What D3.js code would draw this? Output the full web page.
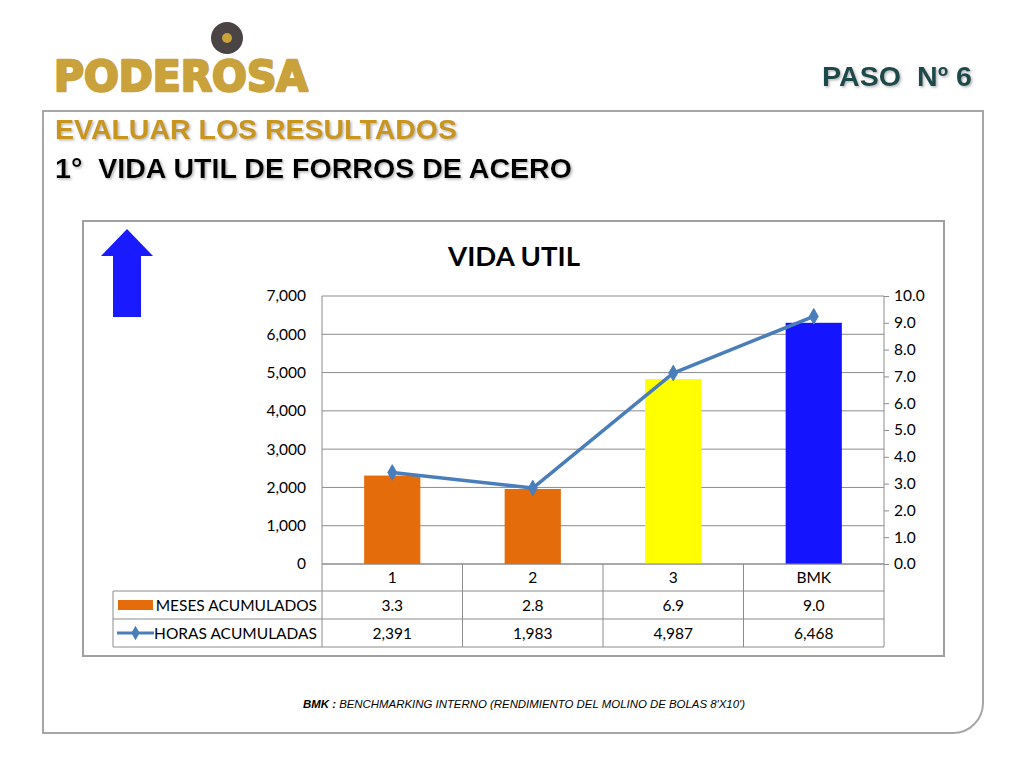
<!DOCTYPE html>
<html><head><meta charset="utf-8">
<script src="https://cdn.jsdelivr.net/npm/d3@7/dist/d3.min.js"></script>
<style>
body{margin:0;background:#fff;}
svg{display:block;}
text{white-space:pre;}
</style></head>
<body>
<svg id="c" width="1024" height="768"></svg>
<script>
const categories = ["1", "2", "3", "BMK"];
const meses = [3.3, 2.8, 6.9, 9.0];
const horas = [2391, 1983, 4987, 6468];
const barColors = ["#E46C0A", "#E46C0A", "#FFFF00", "#1414FF"];
const leftTicks = [0, 1000, 2000, 3000, 4000, 5000, 6000, 7000];
const rightTicks = [0, 1, 2, 3, 4, 5, 6, 7, 8, 9, 10];
const seriesNames = ["MESES ACUMULADOS", "HORAS ACUMULADAS"];

const svg = d3.select("#c");
const F = "Lato, 'Noto Sans', sans-serif";
const H = "'Liberation Sans', Arial, sans-serif";

const defs = svg.append("defs");
const f = defs.append("filter").attr("id","sh").attr("x","-5%").attr("y","-20%").attr("width","110%").attr("height","150%");
f.append("feDropShadow").attr("dx",1.5).attr("dy",1.5).attr("stdDeviation",1).attr("flood-color","#999").attr("flood-opacity",0.7);

// Outer frame with rounded bottom-right corner
svg.append("path")
  .attr("d","M43,111 H983 V703 A30,30 0 0 1 953,733 H43 Z")
  .attr("fill","none").attr("stroke","#A6A6A6").attr("stroke-width",2);

// Logo
svg.append("circle").attr("cx",227).attr("cy",38).attr("r",16).attr("fill","#4A4444");
svg.append("circle").attr("cx",227).attr("cy",38).attr("r",5).attr("fill","#C9A23C");
svg.append("text").attr("x",54).attr("y",91).text("PODEROSA")
  .attr("font-family","'DejaVu Sans', sans-serif").attr("font-weight","bold")
  .attr("font-size",42).attr("fill","#C9A23C").attr("stroke","#C9A23C").attr("stroke-width",2.5)
  .attr("stroke-linejoin","round")
  .attr("textLength",254).attr("lengthAdjust","spacingAndGlyphs");

// PASO Nº 6
svg.append("text").attr("x",972).attr("y",86).attr("text-anchor","end").text("PASO  Nº 6")
  .attr("font-family",H).attr("font-weight","bold").attr("font-size",27).attr("fill","#1E4A4A").attr("filter","url(#sh)")
  .attr("textLength",150).attr("lengthAdjust","spacingAndGlyphs");

svg.append("text").attr("x",55).attr("y",139).text("EVALUAR LOS RESULTADOS")
  .attr("font-family",H).attr("font-weight","bold").attr("font-size",28).attr("fill","#C8961E").attr("filter","url(#sh)")
  .attr("textLength",402).attr("lengthAdjust","spacingAndGlyphs");
svg.append("text").attr("x",55).attr("y",178).text("1°  VIDA UTIL DE FORROS DE ACERO")
  .attr("font-family",H).attr("font-weight","bold").attr("font-size",28).attr("fill","#000").attr("filter","url(#sh)")
  .attr("textLength",517).attr("lengthAdjust","spacingAndGlyphs");

// Chart frame
svg.append("rect").attr("x",83).attr("y",221).attr("width",861).attr("height",435)
  .attr("fill","#fff").attr("stroke","#A0A0A0").attr("stroke-width",2);

// Arrow
svg.append("path").attr("d","M127,229 L153,256 L141,256 L141,317 L113,317 L113,256 L101,256 Z").attr("fill","#1A1AFF");

// Title
svg.append("text").attr("x",514).attr("y",266).attr("text-anchor","middle").text("VIDA UTIL")
  .attr("font-family",F).attr("font-size",27).attr("font-weight","bold").attr("fill","#000")
  .attr("textLength",132).attr("lengthAdjust","spacingAndGlyphs");

// Scales
const plot = {x0:322, x1:884, y0:296, y1:564};
const x = d3.scaleBand().domain(categories).range([plot.x0, plot.x1]).paddingInner(0).paddingOuter(0);
const yL = d3.scaleLinear().domain([0,7000]).range([plot.y1, plot.y0]);
const yR = d3.scaleLinear().domain([0,10]).range([plot.y1, plot.y0]);

// gridlines
svg.append("g").selectAll("line").data(leftTicks).join("line")
  .attr("x1",plot.x0).attr("x2",plot.x1).attr("y1",d=>yL(d)).attr("y2",d=>yL(d))
  .attr("stroke","#8C8C8C").attr("stroke-width",1);

// left axis (labels only)
const gl = svg.append("g").attr("transform",`translate(${plot.x0},0)`)
  .call(d3.axisLeft(yL).tickValues(leftTicks).tickFormat(d3.format(",")).tickSize(0).tickPadding(16));
gl.select(".domain").remove();
gl.selectAll("text").attr("font-family",F).attr("font-size",15.5).attr("fill","#000");

// right axis
const gr = svg.append("g").attr("transform",`translate(${plot.x1},0)`)
  .call(d3.axisRight(yR).tickValues(rightTicks).tickFormat(d3.format(".1f")).tickSize(5).tickPadding(5));
gr.select(".domain").attr("stroke","#8C8C8C").attr("d",`M0,${plot.y0}V${plot.y1}`);
gr.selectAll(".tick line").attr("stroke","#8C8C8C");
gr.selectAll("text").attr("font-family",F).attr("font-size",15.5).attr("fill","#000");

// left plot border
svg.append("line").attr("x1",plot.x0).attr("x2",plot.x0).attr("y1",plot.y0).attr("y2",plot.y1).attr("stroke","#8C8C8C");

// bars
const bw = x.bandwidth()*0.4;
svg.append("g").selectAll("rect").data(categories).join("rect")
  .attr("x",(d)=>x(d)+x.bandwidth()/2-bw/2).attr("width",bw)
  .attr("y",(d,i)=>yR(meses[i])).attr("height",(d,i)=>plot.y1-yR(meses[i]))
  .attr("fill",(d,i)=>barColors[i]);

// line
const cx = d=>x(d)+x.bandwidth()/2;
svg.append("path").datum(categories)
  .attr("d",d3.line().x(d=>cx(d)).y((d,i)=>yL(horas[i])))
  .attr("fill","none").attr("stroke","#4A7EBB").attr("stroke-width",3.5).attr("stroke-linejoin","round");
svg.append("g").selectAll("path").data(categories).join("path")
  .attr("d",d3.symbol(d3.symbolDiamond,70))
  .attr("transform",(d,i)=>`translate(${cx(d)},${yL(horas[i])})`)
  .attr("fill","#4A7EBB").attr("stroke","#4A7EBB");

// data table
const tbl = svg.append("g");
const rows = [564, 591, 619, 647];
const lc = "#8C8C8C";
[1,2,3].forEach(r=>{
  tbl.append("line").attr("x1",113).attr("x2",plot.x1).attr("y1",rows[r]).attr("y2",rows[r]).attr("stroke",lc);
});
tbl.append("line").attr("x1",plot.x0).attr("x2",plot.x1).attr("y1",rows[0]).attr("y2",rows[0]).attr("stroke",lc);
tbl.append("line").attr("x1",113).attr("x2",113).attr("y1",rows[1]).attr("y2",rows[3]).attr("stroke",lc);
[...categories.map(c=>x(c)), plot.x1].forEach(xx=>{
  tbl.append("line").attr("x1",xx).attr("x2",xx).attr("y1",rows[0]).attr("y2",rows[3]).attr("stroke",lc);
});
tbl.selectAll("text.h").data(categories).join("text").attr("class","h")
  .attr("x",d=>cx(d)).attr("y",(rows[0]+rows[1])/2+5.5).attr("text-anchor","middle").text(d=>d)
  .attr("font-family",F).attr("font-size",15.5);
tbl.selectAll("text.m").data(meses).join("text").attr("class","m")
  .attr("x",(d,i)=>cx(categories[i])).attr("y",(rows[1]+rows[2])/2+5.5).attr("text-anchor","middle").text(d=>d3.format(".1f")(d))
  .attr("font-family",F).attr("font-size",15.5);
tbl.selectAll("text.hr").data(horas).join("text").attr("class","hr")
  .attr("x",(d,i)=>cx(categories[i])).attr("y",(rows[2]+rows[3])/2+5.5).attr("text-anchor","middle").text(d=>d3.format(",")(d))
  .attr("font-family",F).attr("font-size",15.5);
tbl.append("rect").attr("x",118).attr("y",600).attr("width",35).attr("height",10).attr("fill",barColors[0]);
tbl.append("line").attr("x1",117).attr("x2",154).attr("y1",633).attr("y2",633).attr("stroke","#4A7EBB").attr("stroke-width",3);
tbl.append("path").attr("d",d3.symbol(d3.symbolDiamond,60)).attr("transform","translate(135.5,633)").attr("fill","#4A7EBB");
tbl.selectAll("text.s").data(seriesNames).join("text").attr("class","s")
  .attr("x",317).attr("y",(d,i)=>(rows[i+1]+rows[i+2])/2+5.5).attr("text-anchor","end").text(d=>d)
  .attr("font-family",F).attr("font-size",15.5);

// footnote
const ft = svg.append("text").attr("x",303).attr("y",708)
  .attr("font-family",H).attr("font-size",11.5).attr("font-style","italic")
  .attr("textLength",442).attr("lengthAdjust","spacingAndGlyphs");
ft.append("tspan").attr("font-weight","bold").text("BMK : ");
ft.append("tspan").text("BENCHMARKING INTERNO (RENDIMIENTO DEL MOLINO DE BOLAS 8'X10')");
</script>
</body></html>
